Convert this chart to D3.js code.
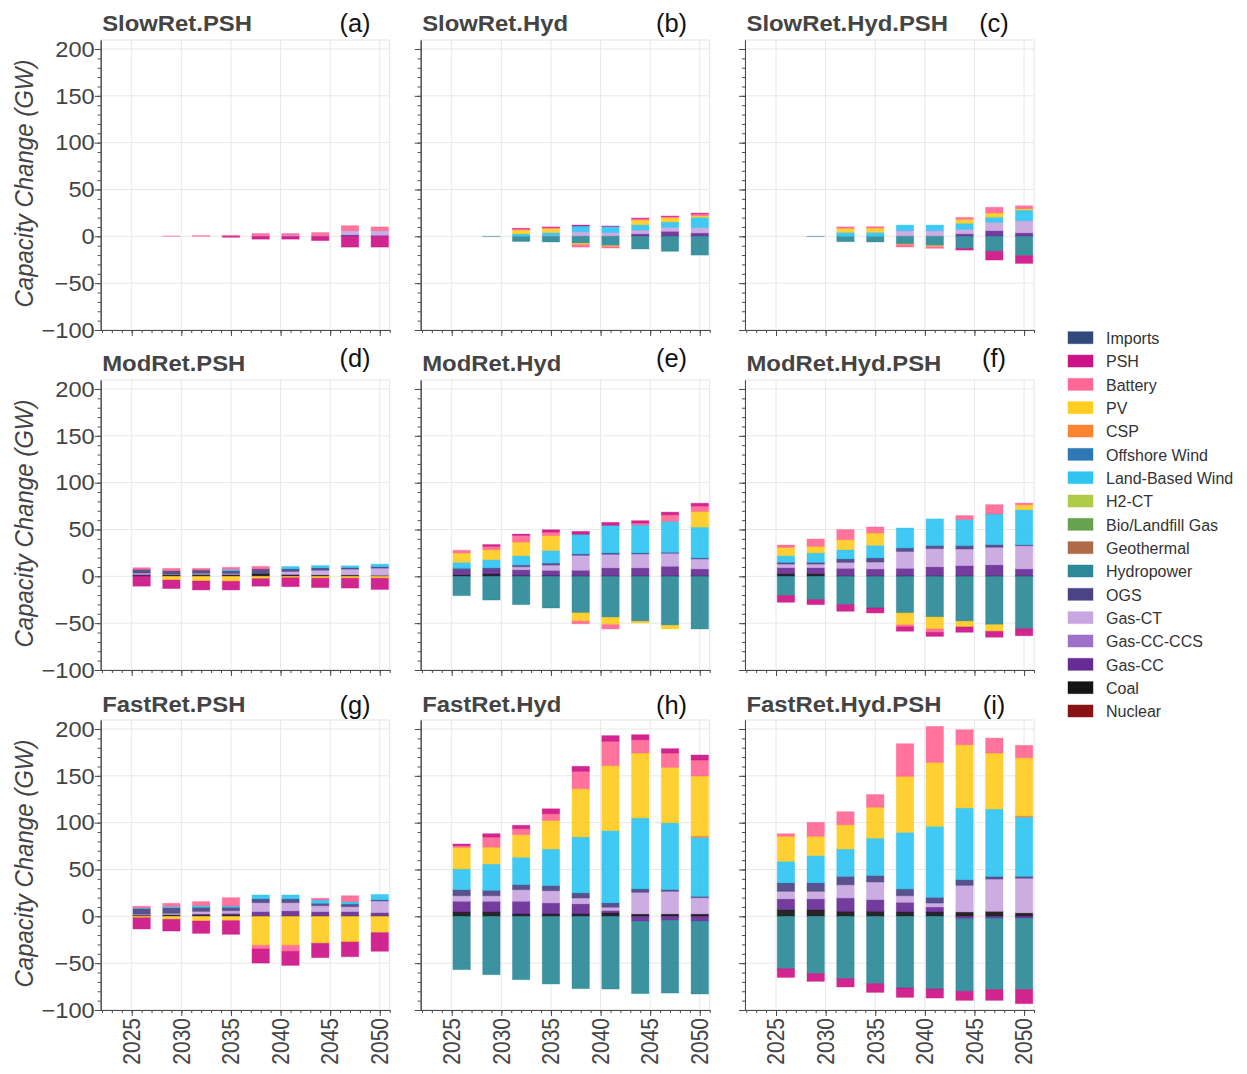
<!DOCTYPE html>
<html>
<head>
<meta charset="utf-8">
<script src="https://cdn.jsdelivr.net/npm/d3@7"></script>
<style>
  body { margin: 0; background: #fff; }
  svg { display: block; font-family: "Liberation Sans", Arial, Helvetica, sans-serif; }
</style>
</head>
<body>
<svg id="chart" width="1247" height="1074"></svg>
<script>
// ---- data -------------------------------------------------------------
const years = [2026, 2029, 2032, 2035, 2038, 2041, 2044, 2047, 2050];
const xMajorTicks = [2025, 2030, 2035, 2040, 2045, 2050];
const yMajorTicks = [-100, -50, 0, 50, 100, 150, 200];
const yAxisTitle = "Capacity Change (GW)";

// technologies in legend order (stacks are built from the bottom of this list up)
const techs = ["Imports", "PSH", "Battery", "PV", "CSP", "Offshore Wind", "Land-Based Wind",
  "H2-CT", "Bio/Landfill Gas", "Geothermal", "Hydropower", "OGS", "Gas-CT", "Gas-CC-CCS",
  "Gas-CC", "Coal", "Nuclear"];
const techColors = ["#1f3b70", "#c9007c", "#ff5a8c", "#ffc80f", "#ff7a21", "#1d6db0", "#1fbff0",
  "#a8c83a", "#5b9a40", "#a65e3b", "#1b7f8f", "#3c3479", "#c39fdd", "#9865c4",
  "#5a1a8c", "#000000", "#800000"];

const panelTitles = ["SlowRet.PSH", "SlowRet.Hyd", "SlowRet.Hyd.PSH",
  "ModRet.PSH", "ModRet.Hyd", "ModRet.Hyd.PSH",
  "FastRet.PSH", "FastRet.Hyd", "FastRet.Hyd.PSH"];
const panelLetters = ["(a)", "(b)", "(c)", "(d)", "(e)", "(f)", "(g)", "(h)", "(i)"];

// capacity change (GW) by technology, one value per year
const slowRetPSH = [
  ["PSH",     [0, 0, 0, -1, -3, -3, -4.5, -11.5, -11.5]],
  ["Battery", [0, 0.4, 0.8, 1, 2, 1.5, 3, 5.4, 4]],
  ["Gas-CT",  [0, 0, 0, 0, 1, 1.5, 1, 4.5, 5]],
  ["Gas-CC",  [0, 0, 0, 0, 0, 0, 0, 1.5, 1]]
];
const slowRetHyd = [
  ["PSH",             [0, 0, 0.5, 0.5, 1, 0.5, 0.5, 0.5, 0.6]],
  ["Battery",         [0, 0, 1, 1, -2.5, -1.5, 1.5, 1.3, 2.2]],
  ["PV",              [0, 0, 4.5, 4.5, -1.5, -1, 5, 4.6, 1.8]],
  ["Land-Based Wind", [0, 0, 2.5, 3, 6, 6.5, 5.7, 5.7, 10.7]],
  ["Hydropower",      [0, -0.3, -5.5, -6, -7.5, -10, -13.5, -16, -20]],
  ["Gas-CT",          [0, 0, 0, 1, 5, 4, 4.3, 4.3, 6]],
  ["Gas-CC",          [0, 0, 0, 0, 0, 0, 2.5, 5.3, 3.5]]
];
const slowRetHydPSH = [
  ["PSH",             [0, 0, 0, 0, 0, 0, -1.8, -9.3, -8.2]],
  ["Battery",         [0, 0, 1.5, 1.4, -2.5, -1.8, 2, 6, 3]],
  ["PV",              [0, 0, 4.3, 4.6, -0.7, -1, 4.3, 4.6, 1.6]],
  ["Land-Based Wind", [0, 0, 4.3, 4.3, 6, 6, 6.4, 5.4, 11.4]],
  ["Hydropower",      [0, -0.3, -5.7, -6, -8.2, -10, -12.9, -16, -20.7]],
  ["Gas-CT",          [0, 0, 0, 0, 6, 6, 5, 9, 13]],
  ["Gas-CC",          [0, 0, 0, 0, 0, 0, 2.5, 6, 3.6]]
];
const modRetPSH = [
  ["PSH",             [-10.5, -9, -9.5, -9.2, -8, -9.5, -10, -10.5, -12]],
  ["Battery",         [1.8, 2.5, 1.8, 2.1, 2.8, 0, 0, 0, 0]],
  ["PV",              [0, -4, -5, -5.3, -2.5, -1.5, -2, -2, -2]],
  ["Land-Based Wind", [0, 0, 0, 1.5, 0, 2.5, 2.5, 2, 2.8]],
  ["OGS",             [3.9, 3.5, 3.5, 3, 5, 2.8, 2.5, 1.5, 1.4]],
  ["Gas-CT",          [1.5, 0.5, 1.2, 1, 0, 3.2, 5, 6.3, 7.8]],
  ["Gas-CC",          [0.8, 0, 0, 0.5, 0, 0.5, 0, 0, 0]],
  ["Coal",            [1.2, 2, 2, 1.5, 2.8, 1.5, 1.5, 1.4, 1]]
];
const modRetHyd = [
  ["PSH",             [0, 1.8, 1.4, 2.5, 3.2, 3.2, 2.5, 2.8, 2.8]],
  ["Battery",         [2.8, 3.6, 7.1, 3.6, -2.8, -4.6, 2.1, 7.1, 6]],
  ["PV",              [10, 10.7, 14.6, 16, -8.9, -7.8, -1.8, -3.9, 16.7]],
  ["Land-Based Wind", [6.4, 8.9, 10, 13.5, 21, 29.5, 29.9, 33, 33]],
  ["Hydropower",      [-20.6, -25.3, -30.2, -33.8, -39, -43.8, -48, -52.3, -56.2]],
  ["OGS",             [2.5, 1.8, 1.8, 2.1, 1.4, 1.4, 1, 1, 1]],
  ["Gas-CT",          [0, 0, 3.2, 5.7, 16, 14.6, 15, 13.9, 10.7]],
  ["Gas-CC",          [4.3, 4.6, 6, 5.3, 5.7, 8.2, 8.2, 10, 7.1]],
  ["Coal",            [1.8, 2.5, 1, 1, 0.7, 0.7, 0.7, 0.7, 0.7]]
];
const modRetHydPSH = [
  ["PSH",             [-7.1, -5.3, -7.1, -5.3, -4.6, -4.3, -5.7, -6.3, -7.5]],
  ["Battery",         [2.5, 7.8, 10.7, 6.4, -2.1, -3.6, 4.3, 10, 1.8]],
  ["PV",              [8.9, 7.1, 10.7, 13.2, -12.8, -12.8, -6, -7.1, 5.3]],
  ["Land-Based Wind", [7.1, 10, 10, 13.5, 21.4, 28.5, 27.8, 32.7, 37.4]],
  ["Hydropower",      [-20.6, -24.9, -30.2, -33.8, -39.1, -43.4, -48, -51.6, -55.9]],
  ["OGS",             [1.8, 1.8, 3.6, 4.3, 3.6, 3.2, 3.6, 2.8, 1]],
  ["Gas-CT",          [3.9, 3.9, 6.4, 7.5, 18.1, 19.6, 17.8, 18.9, 24.9]],
  ["Gas-CC",          [6.4, 6.4, 7.8, 7.1, 7.8, 9.3, 10.7, 11.4, 7.1]],
  ["Coal",            [2.8, 2.8, 0.7, 0.7, 0.7, 0.7, 0.7, 0.7, 0.7]]
];
const fastRetPSH = [
  ["PSH",             [-12, -12.5, -13.2, -14.6, -15, -15, -15.3, -15.7, -19.9]],
  ["Battery",         [1.8, 3.6, 4.3, 8.9, -3.9, -6.4, 1.8, 6.4, 0]],
  ["PV",              [-1.5, -3.2, -5, -4.6, -31, -31, -28.8, -27.4, -17.4]],
  ["Land-Based Wind", [0.7, 1.4, 1.8, 1.4, 4.3, 4.3, 3.6, 2.5, 6]],
  ["OGS",             [6, 5.7, 4.3, 3.6, 3.9, 3.9, 2.5, 2.8, 1]],
  ["Gas-CT",          [1, 1.4, 2.8, 2.8, 9.6, 8.9, 6.4, 5.3, 12.5]],
  ["Gas-CC",          [0, 0, 1, 1.4, 4.3, 5, 4.3, 4.3, 3.2]],
  ["Coal",            [1.3, 1.8, 1.5, 1.8, 0.7, 0.7, 0.7, 0.7, 0.7]]
];
const fastRetHyd = [
  ["PSH",             [1.8, 3.6, 3.6, 5.3, 5.3, 6, 5.3, 4.6, 5.3]],
  ["Battery",         [1.8, 10.7, 6.4, 7.1, 18.5, 26, 14.2, 15.3, 17.1]],
  ["PV",              [23.1, 18.1, 24.2, 30.6, 51.6, 69.4, 69.4, 59.4, 64]],
  ["CSP",             [0, 0, 0, 0, 0, 0, 0, 0, 1.5]],
  ["Land-Based Wind", [22.1, 28.1, 29.2, 39.1, 59.8, 77.2, 75.8, 71.2, 63]],
  ["Hydropower",      [-56.9, -62.3, -67.6, -72.2, -77.2, -77.6, -77.2, -77.6, -77.6]],
  ["OGS",             [6.4, 5.7, 5.3, 5.3, 5.3, 4.6, 3.6, 1.8, 1.4]],
  ["Gas-CT",          [6, 6, 12.5, 13.2, 6.4, 3.6, 23.1, 24.2, 17.4]],
  ["Gas-CC",          [11.4, 11.4, 13.5, 11.7, 10.7, 2.5, -5.3, -4.3, -5.3]],
  ["Coal",            [4.6, 4.6, 2.5, 2.5, 2.5, 3.6, 2.5, 2.5, 2.5]]
];
const fastRetHydPSH = [
  ["PSH",             [-9.3, -8.2, -8.9, -9.3, -10, -9.6, -9.6, -11.4, -14.9]],
  ["Battery",         [2.8, 14.9, 13.9, 13.5, 34.9, 38.4, 16, 16, 13.2]],
  ["PV",              [26.7, 20.6, 26, 33.1, 59.8, 68.3, 67.6, 59.8, 61.9]],
  ["CSP",             [0, 0, 0, 0, 0, 0, 0, 0, 1.4]],
  ["Land-Based Wind", [23.1, 29.2, 29.2, 39.9, 60.5, 75.8, 76.5, 71.9, 63.3]],
  ["Hydropower",      [-55.9, -61.2, -66.5, -71.9, -76.5, -77.6, -77.6, -76.5, -76.2]],
  ["OGS",             [8.9, 8.9, 8.9, 6.8, 7.1, 6, 6, 2.8, 2.1]],
  ["Gas-CT",          [8.2, 8.2, 14.2, 18.9, 7.1, 4.3, 28.5, 34.5, 37]],
  ["Gas-CC",          [11.4, 11.4, 14.2, 12.5, 10.3, 5.3, -2.5, -1.8, -2.1]],
  ["Coal",            [7.1, 7.1, 5.3, 5.3, 4.6, 4.6, 4.6, 5.3, 3.6]]
];
const panelSeries = [slowRetPSH, slowRetHyd, slowRetHydPSH,
  modRetPSH, modRetHyd, modRetHydPSH,
  fastRetPSH, fastRetHyd, fastRetHydPSH];

// ---- layout -----------------------------------------------------------
const colLeft = [100.7, 420.7, 745];
const rowTop = [40, 380, 720];
const plotW = 289, plotH = 290;
const titleBase = [31, 370.5, 711.5];
const letterBase = [31.5, 366.5, 713.5];
const letterX = [355, 671.5, 994];
const barWidth = 1.75;          // in years
const SX = 1.1;                 // horizontal text stretch used for the panel typography
const axisColor = "#4a4a4a";
const textColor = "#444";
const gridColor = "#e8e8e8";

const svg = d3.select("#chart");
const x = d3.scaleLinear().domain([2021.875, 2051.0]).range([0, plotW]);
const y = d3.scaleLinear().domain([-100, 209.6]).range([plotH, 0]);
const color = d3.scaleOrdinal().domain(techs).range(techColors);
const stackKeys = techs.slice().reverse();   // Nuclear sits next to zero

function stretched(sel, px, py, rot) {
  return sel.attr("transform", `translate(${px},${py}) scale(${SX},1)` + (rot ? ` rotate(${rot})` : ""));
}

panelSeries.forEach((series, p) => {
  const row = Math.floor(p / 3), col = p % 3;
  const g = svg.append("g").attr("transform", `translate(${colLeft[col]},${rowTop[row]})`);

  // grid
  g.append("g").selectAll("line").data(yMajorTicks).join("line")
    .attr("x1", 0).attr("x2", plotW).attr("y1", d => y(d)).attr("y2", d => y(d))
    .attr("stroke", gridColor).attr("stroke-width", 1);
  g.append("g").selectAll("line").data(xMajorTicks).join("line")
    .attr("y1", 0).attr("y2", plotH).attr("x1", d => x(d)).attr("x2", d => x(d))
    .attr("stroke", gridColor).attr("stroke-width", 1);
  g.append("rect").attr("x", 0).attr("y", 0).attr("width", plotW).attr("height", plotH)
    .attr("fill", "none").attr("stroke", "#e3e3e3");

  // diverging stacked bars
  const rows = years.map((yr, i) => {
    const r = { year: yr };
    techs.forEach(t => { r[t] = 0; });
    series.forEach(([t, v]) => { r[t] = v[i]; });
    return r;
  });
  const layers = d3.stack().keys(stackKeys).offset(d3.stackOffsetDiverging)(rows);
  g.append("g").selectAll("g").data(layers).join("g")
    .attr("fill", d => color(d.key)).attr("stroke", d => color(d.key))
    .selectAll("rect").data(d => d.filter(s => s[0] !== s[1])).join("rect")
      .attr("x", d => x(d.data.year - barWidth / 2))
      .attr("width", x(barWidth) - x(0))
      .attr("y", d => y(Math.max(d[0], d[1])))
      .attr("height", d => Math.abs(y(d[0]) - y(d[1])))
      .attr("fill-opacity", 0.85)
      .attr("stroke-opacity", 0.35)
      .attr("stroke-width", 1);

  // axes (lines and ticks)
  const yMinor = d3.range(-100, 210, 10);
  const xMinor = d3.range(2022, 2052, 1);
  const ax = g.append("g").attr("class", "axes");
  ax.append("g").call(d3.axisLeft(y).tickValues(yMinor).tickSize(3).tickSizeOuter(0).tickFormat(""));
  ax.append("g").call(d3.axisLeft(y).tickValues(yMajorTicks).tickSize(6).tickSizeOuter(0).tickFormat(""));
  ax.append("g").attr("transform", `translate(0,${plotH})`)
    .call(d3.axisBottom(x).tickValues(xMinor.filter(v => v <= 2051)).tickSize(3).tickSizeOuter(0).tickFormat(""));
  ax.append("g").attr("transform", `translate(0,${plotH})`)
    .call(d3.axisBottom(x).tickValues(xMajorTicks).tickSize(6).tickSizeOuter(0).tickFormat(""));
  ax.selectAll("path, line").attr("stroke", axisColor).attr("stroke-width", 1);

  // tick labels: y on the left column, years on the bottom row
  if (col === 0) {
    g.append("g").selectAll("text").data(yMajorTicks).join("text")
      .each(function (d) { stretched(d3.select(this), -6, y(d)); })
      .attr("dy", "0.36em").attr("text-anchor", "end")
      .attr("font-size", 21.5).attr("fill", textColor)
      .text(d3.format("d"));
    stretched(g.append("text"), 23 - colLeft[col], plotH / 2 - 1.5, -90)
      .attr("dy", "0.36em").attr("text-anchor", "middle")
      .attr("font-size", 24).attr("font-style", "italic").attr("fill", textColor)
      .text(yAxisTitle);
  }
  if (row === 2) {
    g.append("g").selectAll("text").data(xMajorTicks).join("text")
      .each(function (d) { stretched(d3.select(this), x(d), plotH + 8, -90); })
      .attr("dy", "0.36em").attr("text-anchor", "end")
      .attr("font-size", 21).attr("fill", textColor)
      .text(d3.format("d"));
  }

  // panel title and letter
  stretched(svg.append("text"), colLeft[col] + 1.5, titleBase[row])
    .attr("font-size", 21.7).attr("font-weight", "bold").attr("fill", textColor)
    .text(panelTitles[p]);
  svg.append("text").attr("x", letterX[col]).attr("y", letterBase[row])
    .attr("text-anchor", "middle").attr("font-size", 25.5).attr("fill", "#111")
    .text(panelLetters[p]);
});

// ---- legend -----------------------------------------------------------
const legend = svg.append("g").attr("transform", "translate(1068,331.7)");
const item = legend.selectAll("g").data(techs).join("g")
  .attr("transform", (d, i) => `translate(0,${i * 23.33})`);
item.append("rect").attr("width", 25).attr("height", 12)
  .attr("fill", d => color(d)).attr("fill-opacity", 0.92)
  .attr("stroke", d => color(d)).attr("stroke-opacity", 0.4);
item.append("text").attr("x", 38).attr("y", 12.3)
  .attr("font-size", 16).attr("fill", "#333").text(d => d);
</script>
</body>
</html>
